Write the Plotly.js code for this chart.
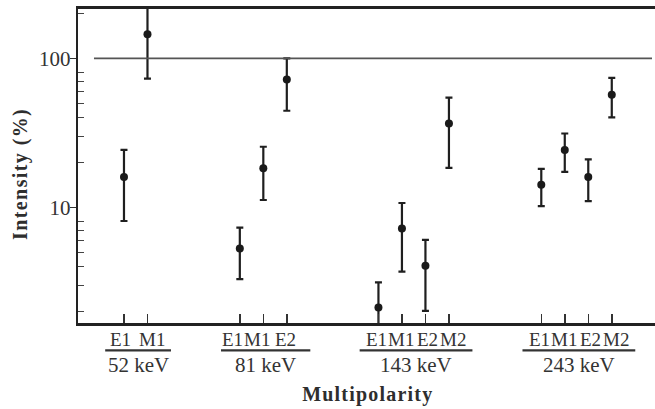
<!DOCTYPE html>
<html>
<head>
<meta charset="utf-8">
<script src="https://cdn.plot.ly/plotly-3.0.1.min.js"></script>
<style>
  html, body { margin: 0; padding: 0; background: #fff; }
  #chart { width: 655px; height: 409px; }
</style>
</head>
<body>
<div id="chart"></div>
<script>
// ---- data ----
const energies = ['52 keV', '81 keV', '143 keV', '243 keV'];
const multipolarities = [
  ['E1', 'M1'],
  ['E1', 'M1', 'E2'],
  ['E1', 'M1', 'E2', 'M2'],
  ['E1', 'M1', 'E2', 'M2']
];
const intensity = [
  [16.0, 145],
  [5.3, 18.3, 72],
  [2.13, 7.2, 4.05, 36.5],
  [14.2, 24.3, 16.0, 57]
];
const upperLimit = [
  [24.3, 260],
  [7.3, 25.5, 100],
  [3.14, 10.7, 6.05, 54.5],
  [18.1, 31.3, 21.0, 74]
];
const lowerLimit = [
  [8.1, 73],
  [3.3, 11.2, 44.5],
  [1.5, 3.7, 2.02, 18.4],
  [10.2, 17.3, 11.0, 40.2]
];
const yMajorTicks = [10, 100];
const yMajorLabels = ['10', '100'];
const yMinorTicks = [2, 3, 4, 5, 6, 7, 8, 20, 30, 40, 50, 60, 70, 80, 200];

// ---- layout / style helpers ----
const groupStart = [0, 4.93, 10.83, 17.76];                       // slot where each group begins
const labelShiftPx = [[-3, 5], [-7, -6, -1], [-2, -1, 2, 4], [-2, -1, 2, 4]]; // typed-label offsets

const xs = [], ys = [], ePlus = [], eMinus = [];
const shapes = [], annotations = [];
const serif = 'Liberation Serif, Times New Roman, serif';

energies.forEach((en, g) => {
  const pos = multipolarities[g].map((m, i) => groupStart[g] + i);
  multipolarities[g].forEach((m, i) => {
    xs.push(pos[i]);
    ys.push(intensity[g][i]);
    ePlus.push(upperLimit[g][i] - intensity[g][i]);
    eMinus.push(intensity[g][i] - lowerLimit[g][i]);
    annotations.push({
      text: m, xref: 'x', yref: 'paper',
      x: pos[i], xshift: labelShiftPx[g][i], y: -0.052,
      xanchor: 'center', yanchor: 'middle', showarrow: false, borderpad: 0,
      font: { family: serif, size: 19, color: '#333' }
    });
  });
  const first = pos[0], last = pos[pos.length - 1];
  const mid = (first + last) / 2;
  shapes.push({
    type: 'line', xref: 'x', yref: 'paper',
    x0: first - 0.8, x1: last + 1.0, y0: -0.087, y1: -0.087,
    line: { color: '#333', width: 2.2 }
  });
  annotations.push({
    text: en, xref: 'x', yref: 'paper',
    x: mid + 0.1, y: -0.134,
    xanchor: 'center', yanchor: 'middle', showarrow: false,
    font: { family: serif, size: 21, color: '#333' }
  });
});

annotations.push({
  text: '<b>Multipolarity</b>', xref: 'paper', yref: 'paper',
  x: 0.5026, y: -0.228, xanchor: 'center', yanchor: 'middle', showarrow: false,
  font: { family: serif, size: 20, color: '#2e2e2e' }
});
annotations.push({
  text: '<b>Intensity (%)</b>', xref: 'paper', yref: 'paper',
  x: -0.0988, y: 0.475, xanchor: 'center', yanchor: 'middle', showarrow: false,
  textangle: -90,
  font: { family: serif, size: 20, color: '#2e2e2e' }
});

// reference line at 100 %
shapes.push({
  type: 'line', xref: 'paper', yref: 'y',
  x0: 0.0277, x1: 0.9948, y0: 100, y1: 100,
  line: { color: '#555', width: 1.6 }
});

const trace = {
  type: 'scatter', mode: 'markers',
  x: xs, y: ys,
  marker: { size: 8, color: '#1a1a1a' },
  error_y: {
    type: 'data', symmetric: false,
    array: ePlus, arrayminus: eMinus,
    color: '#1f1f1f', thickness: 2.2, width: 3.5
  },
  hoverinfo: 'skip'
};

const layout = {
  width: 655, height: 409,
  margin: { l: 78, r: 0, t: 9, b: 86, pad: 0 },
  paper_bgcolor: '#fff', plot_bgcolor: '#fff',
  showlegend: false,
  font: { family: serif, color: '#333' },
  xaxis: {
    type: 'linear', range: [-1.957, 22.6],
    tickmode: 'array', tickvals: xs, showticklabels: false,
    ticks: 'inside', ticklen: 9, tickwidth: 1.5, tickcolor: '#333',
    showline: true, linecolor: '#222', linewidth: 2.8, mirror: true,
    showgrid: false, zeroline: false, fixedrange: true
  },
  yaxis: {
    type: 'log', range: [0.224, 2.331],
    tickmode: 'array', tickvals: yMajorTicks, ticktext: yMajorLabels,
    ticks: 'outside', ticklen: 6, tickwidth: 1.5, tickcolor: '#333',
    ticklabelstandoff: -5,
    tickfont: { family: serif, size: 21, color: '#333' },
    minor: { tickmode: 'array', tickvals: yMinorTicks, ticks: 'inside', ticklen: 6, tickwidth: 1.3, tickcolor: '#444', showgrid: false },
    showline: true, linecolor: '#222', linewidth: 2.2, mirror: false,
    showgrid: false, zeroline: false, fixedrange: true
  },
  shapes: shapes,
  annotations: annotations
};

Plotly.newPlot('chart', [trace], layout, { displayModeBar: false, staticPlot: true }).then(() => {
  document.querySelectorAll('.annotation-text').forEach(t => {
    const s = t.textContent;
    if (s === 'Multipolarity') t.style.letterSpacing = '1.2px';
    if (s === 'Intensity (%)') t.style.letterSpacing = '1.4px';
  });
});
</script>
</body>
</html>
